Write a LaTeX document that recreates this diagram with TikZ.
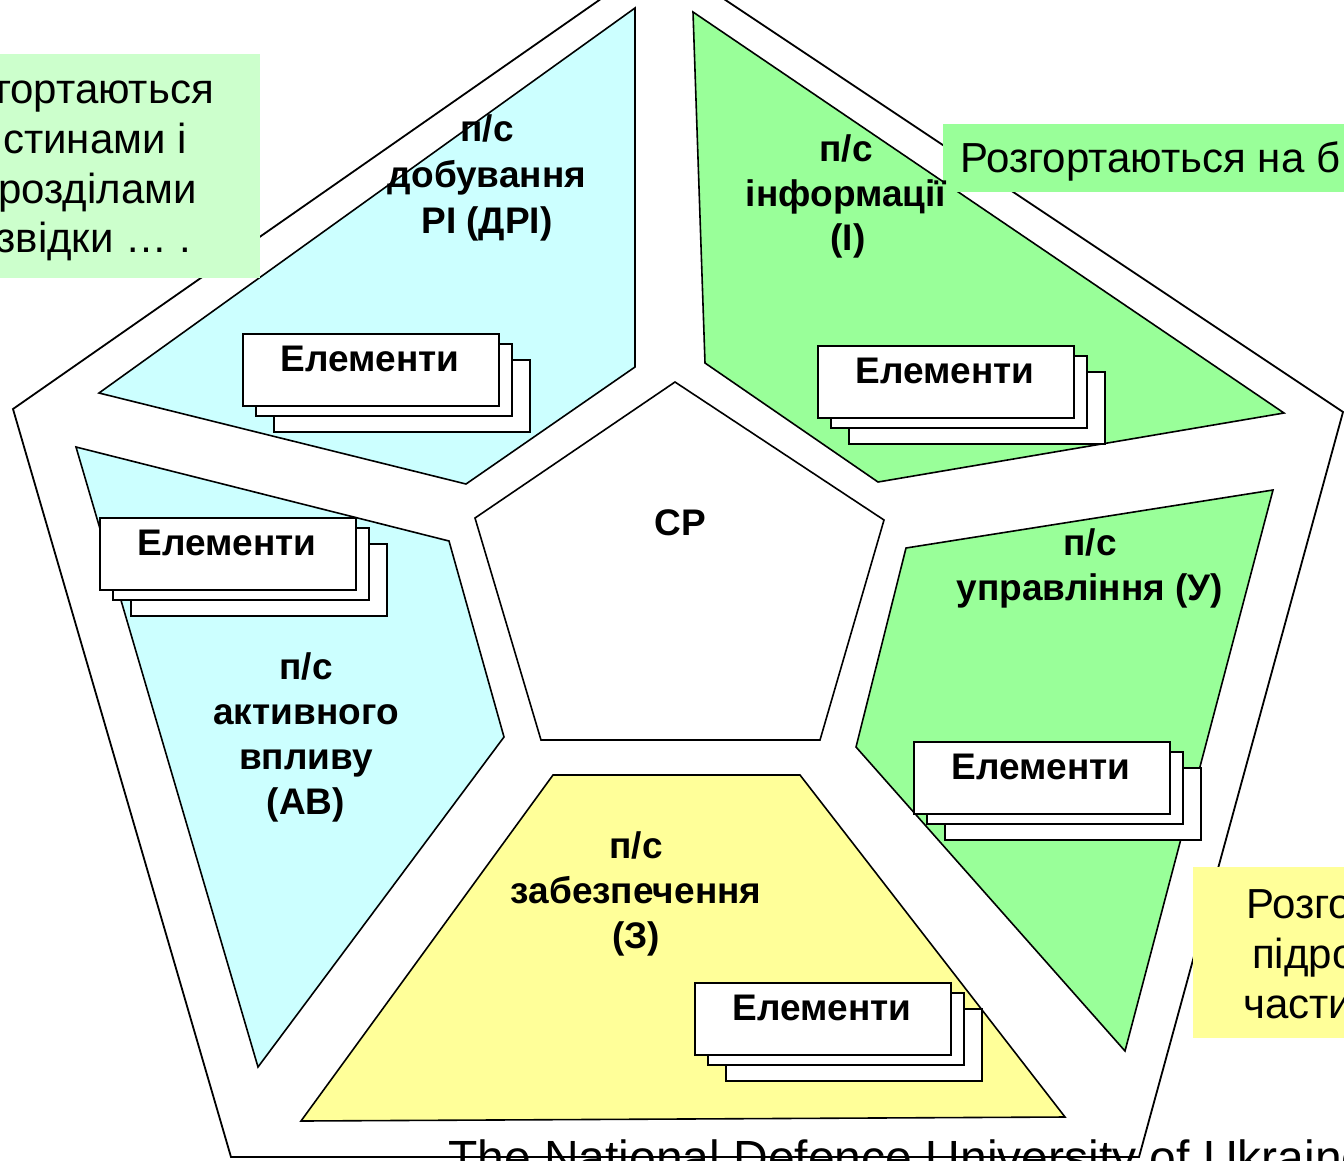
\documentclass[tikz,border=0pt]{standalone}
\usepackage{fontspec}
\setmainfont{Liberation Sans}
\definecolor{skyfill}{HTML}{CCFFFF}
\definecolor{grnfill}{HTML}{99FF99}
\definecolor{ylwfill}{HTML}{FFFF99}
\definecolor{palegrn}{HTML}{CCFFCC}
\newcommand\elstack[3]{%
  \draw[card] (#1+32,#2+27) rectangle ++(256,72);
  \draw[card] (#1+14,#2+11) rectangle ++(256,72);
  \node[card, minimum width=256pt, minimum height=72pt, anchor=north west] (#3) at (#1,#2) {};
  \node[lab] (#3t) at (#1+128,#2+38) {Елементи};
}
\begin{document}
\begin{tikzpicture}[x=1pt,y=-1pt,
  sector/.style={draw=black, line width=1.6pt, line join=miter},
  card/.style={draw=black, fill=white, line width=1.6pt, inner sep=0pt},
  lab/.style={font=\bfseries\fontsize{37}{44}\selectfont, inner sep=0pt, anchor=base},
  notee/.style={font=\fontsize{42}{50}\selectfont, inner sep=0pt, anchor=base east},
  notew/.style={font=\fontsize{42}{50}\selectfont, inner sep=0pt, anchor=base west}]
\useasboundingbox (0,0) rectangle (1344,1160);
\clip (0,0) rectangle (1344,1160);
% outer pentagon
\draw[sector, fill=white, line width=1.8pt] (661,-43) -- (1343,412) -- (1139,1157) -- (231,1157) -- (13,409) -- cycle;
% sectors
\draw[sector, fill=skyfill] (635,8) -- (635,367) -- (466,484) -- (99,393) -- cycle;
\draw[sector, fill=grnfill] (693,12) -- (705,363) -- (878,482) -- (1284,413) -- cycle;
\draw[sector, fill=grnfill] (906,548) -- (1273,490) -- (1125,1051) -- (856,747) -- cycle;
\draw[sector, fill=ylwfill] (553,775) -- (800,775) -- (1065,1117) -- (301,1121) -- cycle;
\draw[sector, fill=skyfill] (76,447) -- (449,541) -- (504,737) -- (258,1067) -- cycle;
% centre
\draw[sector, fill=white] (675,382) -- (884,520) -- (820,740) -- (541,740) -- (475,518) -- cycle;
% element stacks
\elstack{242}{333}{e1}
\elstack{817}{345}{e2}
\elstack{99}{517}{e3}
\elstack{913}{741}{e4}
\elstack{694}{982}{e5}
% callout boxes
\fill[palegrn] (-130,54) rectangle (260,278);
\node[notee] (c1a) at (214,103) {гортаються};
\node[notee] (c1b) at (187,153) {стинами і};
\node[notee] (c1c) at (197,203) {розділами};
\node[notee] (c1d) at (191,252) {звідки … .};
\fill[grnfill] (943,124) rectangle (1400,192);
\node[notew] (c2a) at (960,172) {Розгортаються на б};
\fill[ylwfill] (1193,867) rectangle (1400,1038);
\node[notew] (c3a) at (1246,918) {Розго};
\node[notew] (c3b) at (1252,968) {підро};
\node[notew] (c3c) at (1243,1018) {части};
% sector labels
\node[lab] (s1a) at (487,141) {п/с};
\node[lab] (s1b) at (487,187) {добування};
\node[lab] (s1c) at (487,233) {РІ (ДРІ)};
\node[lab] (s2a) at (846,161) {п/с};
\node[lab] (s2b) at (846,206) {інформації};
\node[lab] (s2c) at (848,250) {(І)};
\node[lab] (s0) at (680,535) {СР};
\node[lab] (s3a) at (1090,555) {п/с};
\node[lab] (s3b) at (1090,600) {управління (У)};
\node[lab] (s4a) at (306,679) {п/с};
\node[lab] (s4b) at (306,724) {активного};
\node[lab] (s4c) at (306,769) {впливу};
\node[lab] (s4d) at (306,814) {(АВ)};
\node[lab] (s5a) at (636,858) {п/с};
\node[lab] (s5b) at (636,903) {забезпечення};
\node[lab] (s5c) at (636,948) {(З)};
% footer
\node[font=\fontsize{48}{48}\selectfont, inner sep=0pt, anchor=base west] (foot) at (448,1174) {The National Defence University of Ukraine};
\end{tikzpicture}
\end{document}
